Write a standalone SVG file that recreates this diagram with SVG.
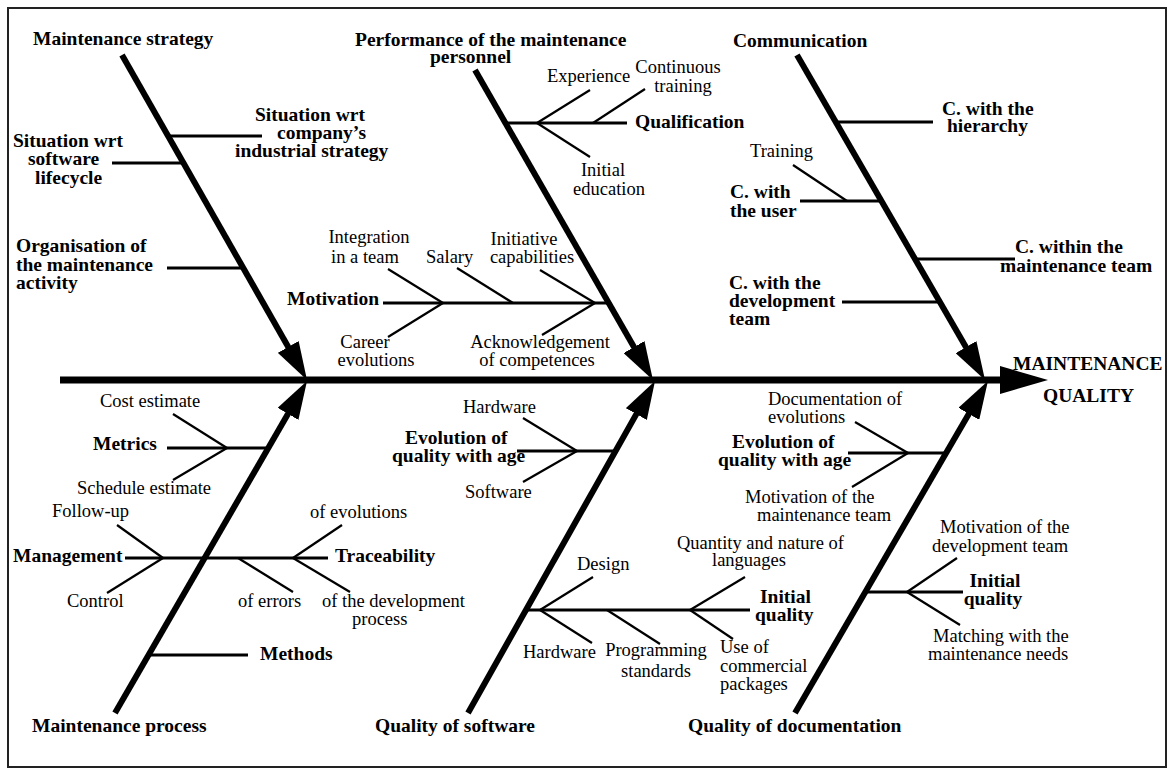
<svg xmlns="http://www.w3.org/2000/svg" width="1169" height="770" viewBox="0 0 1169 770">
<style>
text{font-family:"Liberation Serif","Times New Roman",serif;fill:#000}
.b{font-weight:bold;font-size:19.5px}
.r{font-size:18.5px}
.m{text-anchor:middle}
.spine{stroke:#000;stroke-width:7;fill:none}
.bone{stroke:#000;stroke-width:6;fill:none}
.br{stroke:#000;stroke-width:3;fill:none}
.sb{stroke:#000;stroke-width:2.2;fill:none}
</style>
<defs>
<marker id="bonehead" markerUnits="userSpaceOnUse" markerWidth="38" markerHeight="24" viewBox="0 0 38 24" refX="18" refY="12" orient="auto"><path d="M0,0 L38,12 L0,24 z" fill="#000"/></marker>
<marker id="spinehead" markerUnits="userSpaceOnUse" markerWidth="48" markerHeight="28" viewBox="0 0 48 28" refX="5" refY="14" orient="auto"><path d="M0,0 L48,14 L0,28 z" fill="#000"/></marker>
</defs>
<rect x="8" y="8" width="1158" height="759" fill="#fff" stroke="#222" stroke-width="2"/>
<g id="connectors">
<line class="spine" x1="60" y1="380" x2="1005" y2="380" marker-end="url(#spinehead)"/>
<line class="bone" x1="122" y1="55" x2="297.1" y2="362.6" marker-end="url(#bonehead)"/>
<line class="bone" x1="475" y1="70" x2="643" y2="362.7" marker-end="url(#bonehead)"/>
<line class="bone" x1="797" y1="55" x2="975" y2="362.7" marker-end="url(#bonehead)"/>
<line class="bone" x1="115" y1="713" x2="297" y2="398.3" marker-end="url(#bonehead)"/>
<line class="bone" x1="468" y1="713" x2="645.2" y2="398.4" marker-end="url(#bonehead)"/>
<line class="bone" x1="795" y1="713" x2="977.9" y2="398.3" marker-end="url(#bonehead)"/>
<line class="br" x1="170" y1="136" x2="262" y2="136"/>
<line class="br" x1="112" y1="163" x2="185" y2="163"/>
<line class="br" x1="167" y1="268" x2="244" y2="268"/>
<line class="br" x1="504" y1="123" x2="627" y2="123"/>
<line class="sb" x1="537" y1="123" x2="590" y2="90"/>
<line class="sb" x1="537" y1="123" x2="590" y2="157"/>
<line class="sb" x1="593" y1="123" x2="645" y2="89"/>
<line class="br" x1="383" y1="303" x2="610" y2="303"/>
<line class="sb" x1="443" y1="303" x2="388" y2="269"/>
<line class="sb" x1="443" y1="303" x2="388" y2="337"/>
<line class="sb" x1="513" y1="303" x2="457" y2="268"/>
<line class="sb" x1="595" y1="303" x2="540" y2="270"/>
<line class="sb" x1="595" y1="303" x2="542" y2="335"/>
<line class="br" x1="835" y1="122" x2="933" y2="122"/>
<line class="br" x1="800" y1="201" x2="882" y2="201"/>
<line class="sb" x1="847" y1="201" x2="793" y2="165"/>
<line class="br" x1="914" y1="259" x2="1015" y2="259"/>
<line class="br" x1="842" y1="302" x2="941" y2="302"/>
<line class="br" x1="167" y1="448" x2="269" y2="448"/>
<line class="sb" x1="227" y1="448" x2="173" y2="414"/>
<line class="sb" x1="227" y1="448" x2="173" y2="480"/>
<line class="br" x1="125" y1="558" x2="328" y2="558"/>
<line class="sb" x1="163" y1="558" x2="117" y2="525"/>
<line class="sb" x1="163" y1="558" x2="107" y2="593"/>
<line class="sb" x1="293" y1="558" x2="342" y2="525"/>
<line class="sb" x1="238" y1="558" x2="293" y2="592"/>
<line class="sb" x1="293" y1="558" x2="350" y2="592"/>
<line class="br" x1="147" y1="655" x2="248" y2="655"/>
<line class="br" x1="517" y1="451" x2="617" y2="451"/>
<line class="sb" x1="577" y1="451" x2="523" y2="418"/>
<line class="sb" x1="577" y1="451" x2="523" y2="482"/>
<line class="br" x1="525" y1="610" x2="750" y2="610"/>
<line class="sb" x1="540" y1="610" x2="593" y2="577"/>
<line class="sb" x1="540" y1="610" x2="592" y2="643"/>
<line class="sb" x1="607" y1="610" x2="660" y2="644"/>
<line class="sb" x1="690" y1="610" x2="745" y2="577"/>
<line class="sb" x1="690" y1="610" x2="733" y2="639"/>
<line class="br" x1="848" y1="453" x2="947" y2="453"/>
<line class="sb" x1="908" y1="453" x2="855" y2="422"/>
<line class="sb" x1="908" y1="453" x2="852" y2="487"/>
<line class="br" x1="864" y1="592" x2="963" y2="592"/>
<line class="sb" x1="907" y1="592" x2="957" y2="558"/>
<line class="sb" x1="907" y1="592" x2="960" y2="625"/>
</g>
<g id="maintenance-strategy"><text class="b" x="33" y="45">Maintenance strategy</text></g>
<g id="situation-industrial"><text class="b" x="255" y="121">Situation wrt</text><text class="b" x="277" y="139">company’s</text><text class="b" x="235" y="157">industrial strategy</text></g>
<g id="situation-lifecycle"><text class="b" x="13" y="147">Situation wrt</text><text class="b" x="28" y="165">software</text><text class="b" x="35" y="184">lifecycle</text></g>
<g id="organisation"><text class="b" x="16" y="252">Organisation of</text><text class="b" x="16" y="271">the maintenance</text><text class="b" x="16" y="289">activity</text></g>
<g id="performance"><text class="b" x="355" y="46">Performance of the maintenance</text><text class="b" x="430" y="63">personnel</text></g>
<g id="qualification"><text class="b" x="635" y="128">Qualification</text></g>
<g id="experience"><text class="r" x="547" y="82">Experience</text></g>
<g id="continuous-training"><text class="r m" x="678" y="73">Continuous</text><text class="r m" x="683" y="92">training</text></g>
<g id="initial-education"><text class="r m" x="603" y="176">Initial</text><text class="r m" x="609" y="195">education</text></g>
<g id="motivation"><text class="b" x="287" y="305">Motivation</text></g>
<g id="integration"><text class="r m" x="369" y="243">Integration</text><text class="r m" x="365" y="263">in a team</text></g>
<g id="salary"><text class="r" x="426" y="263">Salary</text></g>
<g id="initiative"><text class="r m" x="524" y="245">Initiative</text><text class="r m" x="532" y="263">capabilities</text></g>
<g id="career"><text class="r m" x="365" y="348">Career</text><text class="r m" x="376" y="366">evolutions</text></g>
<g id="acknowledgement"><text class="r m" x="540" y="348">Acknowledgement</text><text class="r m" x="537" y="366">of competences</text></g>
<g id="communication"><text class="b" x="733" y="47">Communication</text></g>
<g id="c-hierarchy"><text class="b" x="942" y="115">C. with the</text><text class="b" x="947" y="132">hierarchy</text></g>
<g id="training"><text class="r" x="750" y="157">Training</text></g>
<g id="c-user"><text class="b" x="730" y="198">C. with</text><text class="b" x="730" y="217">the user</text></g>
<g id="c-maint-team"><text class="b" x="1015" y="253">C. within the</text><text class="b" x="1000" y="272">maintenance team</text></g>
<g id="c-dev-team"><text class="b" x="729" y="289">C. with the</text><text class="b" x="729" y="307">development</text><text class="b" x="729" y="325">team</text></g>
<g id="maintenance-quality"><text class="b" x="1013" y="370">MAINTENANCE</text><text class="b" x="1043" y="402">QUALITY</text></g>
<g id="metrics"><text class="b" x="93" y="450">Metrics</text></g>
<g id="cost-estimate"><text class="r" x="100" y="407">Cost estimate</text></g>
<g id="schedule-estimate"><text class="r" x="77" y="494">Schedule estimate</text></g>
<g id="management"><text class="b" x="13" y="562">Management</text></g>
<g id="follow-up"><text class="r" x="52" y="517">Follow-up</text></g>
<g id="control"><text class="r" x="67" y="607">Control</text></g>
<g id="traceability"><text class="b" x="335" y="562">Traceability</text></g>
<g id="of-evolutions"><text class="r" x="310" y="518">of evolutions</text></g>
<g id="of-errors"><text class="r" x="238" y="607">of errors</text></g>
<g id="of-dev-process"><text class="r" x="322" y="607">of the development</text><text class="r" x="352" y="625">process</text></g>
<g id="methods"><text class="b" x="260" y="660">Methods</text></g>
<g id="maintenance-process"><text class="b" x="32" y="732">Maintenance process</text></g>
<g id="sw-evolution"><text class="b" x="405" y="444">Evolution of</text><text class="b" x="392" y="462">quality with age</text></g>
<g id="sw-hardware"><text class="r" x="463" y="413">Hardware</text></g>
<g id="sw-software"><text class="r" x="465" y="498">Software</text></g>
<g id="sw-initial"><text class="b" x="760" y="603">Initial</text><text class="b" x="755" y="621">quality</text></g>
<g id="design"><text class="r" x="577" y="570">Design</text></g>
<g id="hardware2"><text class="r" x="523" y="658">Hardware</text></g>
<g id="programming"><text class="r m" x="656" y="656">Programming</text><text class="r m" x="656" y="677">standards</text></g>
<g id="languages"><text class="r" x="677" y="549">Quantity and nature of</text><text class="r" x="712" y="566">languages</text></g>
<g id="commercial"><text class="r" x="720" y="653">Use of</text><text class="r" x="720" y="672">commercial</text><text class="r" x="720" y="690">packages</text></g>
<g id="quality-software"><text class="b" x="375" y="732">Quality of software</text></g>
<g id="doc-evolution"><text class="b" x="732" y="448">Evolution of</text><text class="b" x="718" y="466">quality with age</text></g>
<g id="doc-evolutions"><text class="r" x="768" y="405">Documentation of</text><text class="r" x="768" y="423">evolutions</text></g>
<g id="motiv-maint"><text class="r" x="745" y="503">Motivation of the</text><text class="r" x="757" y="521">maintenance team</text></g>
<g id="doc-initial"><text class="b m" x="995" y="587">Initial</text><text class="b m" x="993" y="605">quality</text></g>
<g id="motiv-dev"><text class="r" x="940" y="533">Motivation of the</text><text class="r" x="932" y="552">development team</text></g>
<g id="matching"><text class="r" x="933" y="642">Matching with the</text><text class="r" x="928" y="660">maintenance needs</text></g>
<g id="quality-doc"><text class="b" x="688" y="732">Quality of documentation</text></g>
</svg>
